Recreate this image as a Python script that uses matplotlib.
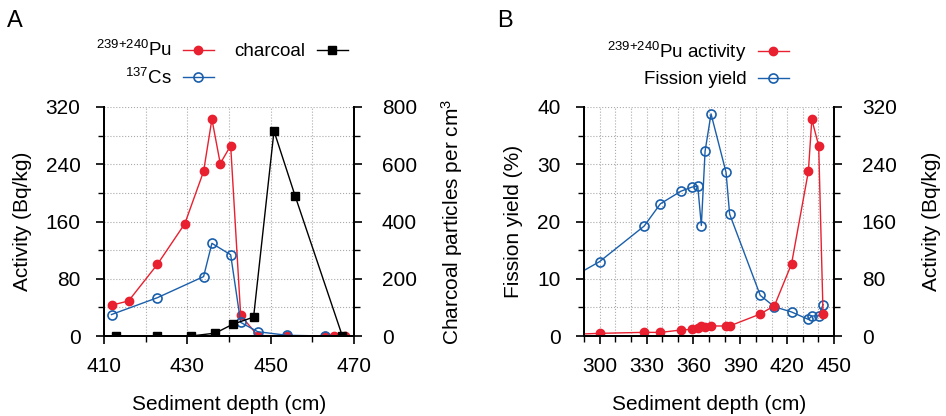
import numpy as np
import matplotlib
matplotlib.use('Agg')
import matplotlib.pyplot as plt
from matplotlib.ticker import MultipleLocator


plt.rcParams['font.family'] = ['Liberation Sans', 'DejaVu Sans']
plt.rcParams['mathtext.default'] = 'regular'

RED = '#e8202f'
BLUE = '#1a5fab'

# panel A data
pu_depth_a = [411.8, 415.9, 422.8, 429.4, 433.9, 435.9, 437.9, 440.4, 442.8, 446.9, 453.9, 463.0, 465.3, 467.8]
pu_act_a = [43, 49, 100, 157, 230, 303, 241, 266, 29, 0.5, 0.5, 0, 0, 0]

cs_depth_a = [411.8, 422.8, 433.9, 435.9, 440.4, 442.8, 446.9, 453.9, 463.0]
cs_act_a = [30, 53.5, 83, 129.5, 113.5, 19, 6, 1, 0]

charcoal_depth = [412.8, 422.8, 430.9, 436.7, 440.9, 445.9, 450.8, 455.9, 467.2]
charcoal_count = [0, 0, 0, 10, 41, 66, 716, 488, 0]

depth_ticks_a = [410, 430, 450, 470]

# panel B data
fy_depth = [282, 300, 328.5, 338.9, 352.1, 359.0, 362.8, 365.1, 367.5, 371.3, 380.9, 383.2,
            402.8, 411.9, 422.8, 433.6, 435.8, 440.2, 443.0]
fission_yield = [10.2, 13.0, 19.2, 23.1, 25.3, 26.0, 26.2, 19.3, 32.3, 38.8, 28.6, 21.3,
                 7.1, 5.1, 4.2, 2.9, 3.5, 3.5, 5.5]
pu_act_b = [2.3, 3.7, 5.1, 5.0, 8.4, 9.3, 11, 14, 13, 14, 14, 14,
            30.7, 42.4, 100.6, 230, 302.7, 265.9, 30.3]

fig = plt.figure(figsize=(9.46, 4.16), dpi=100)

TICK_FS = 15
LABEL_FS = 15
LEG_FS = 13.5


def style_axes(ax, right=False):
    ax.spines['top'].set_visible(False)
    for s in ['left', 'right', 'bottom']:
        ax.spines[s].set_linewidth(1.4)
    ax.tick_params(which='major', direction='out', length=6, width=1.2,
                   labelsize=TICK_FS)
    ax.tick_params(which='minor', direction='out', length=4, width=1.0)
    ax.tick_params(axis='y', pad=14 if right else 11)
    ax.tick_params(axis='x', pad=9)


# ---------------- panel A ----------------
axA = fig.add_axes([104 / 946, 1 - 336 / 416, 250 / 946, 229 / 416])
axA.set_xlim(410, 470)
axA.set_ylim(0, 320)
axA.set_xticks(depth_ticks_a)
axA.xaxis.set_minor_locator(MultipleLocator(10))
axA.yaxis.set_major_locator(MultipleLocator(80))
axA.yaxis.set_minor_locator(MultipleLocator(40))
axA.grid(which='both', color='#aaaaaa', linestyle=':', linewidth=0.8)
style_axes(axA)

lpu, = axA.plot(pu_depth_a, pu_act_a, color=RED, lw=1.0, marker='o', ms=6,
                mfc=RED, mec=RED, label='$^{239{+}240}$Pu')
lcs, = axA.plot(cs_depth_a, cs_act_a, color=BLUE, lw=1.0, marker='o', ms=6.5,
                mfc='none', mec=BLUE, mew=1.2, label='$^{137}$Cs')
axA.set_xlabel('Sediment depth (cm)', fontsize=LABEL_FS, labelpad=14)
axA.set_ylabel('Activity (Bq/kg)', fontsize=LABEL_FS, labelpad=10)

axA2 = axA.twinx()
axA2.set_ylim(0, 800)
axA2.yaxis.set_major_locator(MultipleLocator(200))
axA2.yaxis.set_minor_locator(MultipleLocator(100))
style_axes(axA2, right=True)
lch, = axA2.plot(charcoal_depth, charcoal_count, color='black', lw=1.0, marker='s',
                 ms=6, label='charcoal')
axA2.set_ylabel('Charcoal particles per cm$^3$', fontsize=LABEL_FS, labelpad=16)

fig.legend(handles=[lpu, lcs, lch], ncol=2, markerfirst=False, frameon=False,
           fontsize=LEG_FS, loc='center right', bbox_to_anchor=(357 / 946, 1 - 64 / 416),
           handlelength=1.65, columnspacing=1.1, labelspacing=0.4, borderpad=0,
           handletextpad=0.6)

# ---------------- panel B ----------------
axB = fig.add_axes([584 / 946, 1 - 336 / 416, 250 / 946, 229 / 416])
axB.set_xlim(290, 450)
axB.set_ylim(0, 40)
axB.xaxis.set_major_locator(MultipleLocator(30))
axB.xaxis.set_minor_locator(MultipleLocator(10))
axB.yaxis.set_major_locator(MultipleLocator(10))
axB.yaxis.set_minor_locator(MultipleLocator(5))
axB.grid(which='both', color='#aaaaaa', linestyle=':', linewidth=0.8)
style_axes(axB)
lfy, = axB.plot(fy_depth, fission_yield, color=BLUE, lw=1.0, marker='o', ms=6.5,
                mfc='none', mec=BLUE, mew=1.2, label='Fission yield')
axB.set_xlabel('Sediment depth (cm)', fontsize=LABEL_FS, labelpad=14)
axB.set_ylabel('Fission yield (%)', fontsize=LABEL_FS, labelpad=10)

axB2 = axB.twinx()
axB2.set_ylim(0, 320)
axB2.yaxis.set_major_locator(MultipleLocator(80))
axB2.yaxis.set_minor_locator(MultipleLocator(40))
style_axes(axB2, right=True)
lpb, = axB2.plot(fy_depth, pu_act_b, color=RED, lw=1.0, marker='o', ms=6,
                 mfc=RED, mec=RED, label='$^{239{+}240}$Pu activity')
axB2.set_ylabel('Activity (Bq/kg)', fontsize=LABEL_FS, labelpad=18)

fig.legend(handles=[lpb, lfy], markerfirst=False, frameon=False,
           fontsize=LEG_FS, loc='center right', bbox_to_anchor=(798 / 946, 1 - 64 / 416),
           handlelength=1.65, labelspacing=0.4, borderpad=0, handletextpad=0.6)

fig.text(7 / 946, 1 - 27 / 416, 'A', fontsize=17, ha='left', va='baseline')
fig.text(497 / 946, 1 - 27 / 416, 'B', fontsize=17, ha='left', va='baseline')

fig.savefig('out.png', dpi=100)
